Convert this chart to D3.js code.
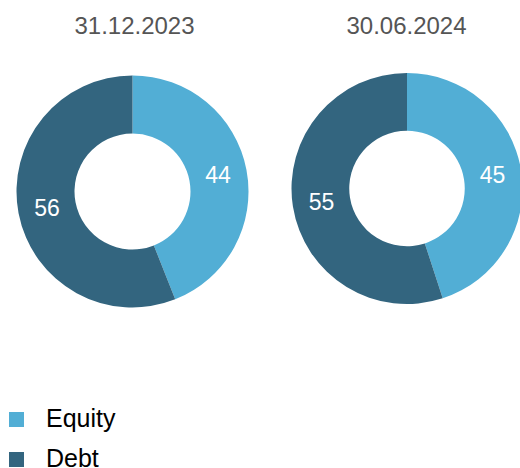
<!DOCTYPE html>
<html>
<head>
<meta charset="utf-8">
<script src="https://cdn.jsdelivr.net/npm/d3@7"></script>
<style>
  body { margin: 0; background: #fff; }
  svg { display: block; font-family: "Liberation Sans", Arial, sans-serif; }
</style>
</head>
<body>
<div id="chart"></div>
<script>
const dates = ["31.12.2023", "30.06.2024"];
const categories = ["Equity", "Debt"];
const equity = [44, 45];
const debt = [56, 55];
const colors = ["#52aed5", "#33657f"];

const width = 520, height = 468;
// donut layout (center x, center y, outer radius)
const donuts = [
  { cx: 132.5, cy: 191.5, r: 116 },
  { cx: 407, cy: 188.5, r: 115.5 }
];

const svg = d3.select("#chart").append("svg")
  .attr("width", width)
  .attr("height", height);

const color = d3.scaleOrdinal().domain(categories).range(colors);

const pie = d3.pie()
  .sort(null)
  .value((d) => d.value);

dates.forEach((date, i) => {
  const { cx, cy, r } = donuts[i];
  const inner = r * 0.5;
  const arc = d3.arc().innerRadius(inner).outerRadius(r);
  const data = [
    { key: "Equity", value: equity[i] },
    { key: "Debt", value: debt[i] }
  ];

  const g = svg.append("g").attr("transform", `translate(${cx},${cy})`);

  g.selectAll("path")
    .data(pie(data))
    .join("path")
    .attr("d", arc)
    .attr("fill", (d) => color(d.data.key));

  g.selectAll("text.value")
    .data(pie(data))
    .join("text")
    .attr("class", "value")
    .attr("transform", (d) => `translate(${arc.centroid(d)})`)
    .attr("text-anchor", "middle")
    .attr("dy", "0.36em")
    .attr("font-size", "23px")
    .attr("fill", "#fff")
    .text((d) => d.data.value);

  // date title
  svg.append("text")
    .attr("x", i === 0 ? 134.5 : 406.5)
    .attr("y", 34)
    .attr("text-anchor", "middle")
    .attr("font-size", "24px")
    .attr("fill", "#555")
    .text(date);
});

// Legend
const legend = svg.append("g").attr("transform", "translate(9,412)");
const item = legend.selectAll("g")
  .data(categories)
  .join("g")
  .attr("transform", (d, i) => `translate(0,${i * 40})`);

item.append("rect")
  .attr("width", 15).attr("height", 15)
  .attr("fill", (d) => color(d));

item.append("text")
  .attr("x", 37)
  .attr("y", 15)
  .attr("font-size", "25px")
  .attr("fill", "#000")
  .text((d) => d);
</script>
</body>
</html>
